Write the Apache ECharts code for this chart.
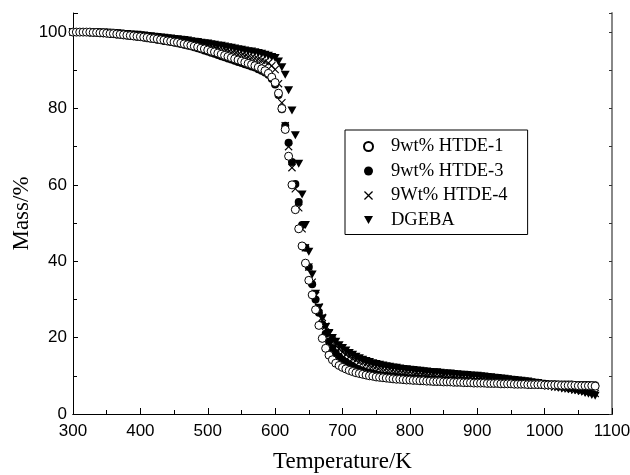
<!DOCTYPE html>
<html>
<head>
<meta charset="utf-8">
<script src="https://cdn.jsdelivr.net/npm/echarts@6/dist/echarts.min.js"></script>
<style>
    html, body { margin: 0; padding: 0; background: #fff; }
    #chart { width: 630px; height: 475px; }
</style>
</head>
<body>
<div id="chart"></div>
<script>
// temperature, K (one reading every 5 K)
var temps = [
    300, 305, 310, 315, 320, 325, 330, 335, 340, 345,
    350, 355, 360, 365, 370, 375, 380, 385, 390, 395,
    400, 405, 410, 415, 420, 425, 430, 435, 440, 445,
    450, 455, 460, 465, 470, 475, 480, 485, 490, 495,
    500, 505, 510, 515, 520, 525, 530, 535, 540, 545,
    550, 555, 560, 565, 570, 575, 580, 585, 590, 595,
    600, 605, 610, 615, 620, 625, 630, 635, 640, 645,
    650, 655, 660, 665, 670, 675, 680, 685, 690, 695,
    700, 705, 710, 715, 720, 725, 730, 735, 740, 745,
    750, 755, 760, 765, 770, 775, 780, 785, 790, 795,
    800, 805, 810, 815, 820, 825, 830, 835, 840, 845,
    850, 855, 860, 865, 870, 875, 880, 885, 890, 895,
    900, 905, 910, 915, 920, 925, 930, 935, 940, 945,
    950, 955, 960, 965, 970, 975, 980, 985, 990, 995,
    1000, 1005, 1010, 1015, 1020, 1025, 1030, 1035, 1040, 1045,
    1050, 1055, 1060, 1065, 1070, 1075
];

// mass, %
var htde1 = [
    100, 100, 100, 100, 100, 100, 99.9, 99.9, 99.8, 99.8,
    99.7, 99.6, 99.6, 99.5, 99.4, 99.3, 99.2, 99.1, 99.0, 98.9,
    98.8, 98.7, 98.6, 98.4, 98.3, 98.2, 98.0, 97.9, 97.7, 97.6,
    97.4, 97.3, 97.1, 96.9, 96.7, 96.5, 96.3, 96.1, 95.8, 95.6,
    95.3, 95.0, 94.8, 94.5, 94.2, 93.9, 93.6, 93.3, 93.0, 92.7,
    92.4, 92.1, 91.8, 91.5, 91.2, 90.8, 90.4, 89.9, 89.2, 88.2,
    86.8, 84.0, 80.0, 74.5, 67.5, 60.0, 53.5, 48.5, 44.0, 39.5,
    35.0, 31.2, 27.3, 23.2, 19.8, 17.2, 15.4, 14.2, 13.3, 12.7,
    12.2, 11.8, 11.4, 11.1, 10.8, 10.6, 10.4, 10.2, 10.0, 9.9,
    9.7, 9.6, 9.5, 9.4, 9.3, 9.2, 9.1, 9.1, 9.0, 8.9,
    8.9, 8.8, 8.8, 8.7, 8.7, 8.6, 8.6, 8.5, 8.5, 8.5,
    8.4, 8.4, 8.4, 8.3, 8.3, 8.3, 8.2, 8.2, 8.2, 8.1,
    8.1, 8.1, 8.1, 8.0, 8.0, 8.0, 8.0, 7.9, 7.9, 7.9,
    7.9, 7.8, 7.8, 7.8, 7.8, 7.7, 7.7, 7.7, 7.7, 7.7,
    7.6, 7.6, 7.6, 7.6, 7.6, 7.5, 7.5, 7.5, 7.5, 7.5,
    7.4, 7.4, 7.4, 7.4, 7.4, 7.3
];
var htde3 = [
    100, 100, 100, 100, 100, 99.9, 99.9, 99.8, 99.8, 99.7,
    99.7, 99.6, 99.5, 99.4, 99.3, 99.2, 99.1, 99.0, 98.9, 98.8,
    98.7, 98.6, 98.4, 98.3, 98.2, 98.0, 97.9, 97.7, 97.6, 97.4,
    97.3, 97.1, 96.9, 96.7, 96.5, 96.3, 96.0, 95.8, 95.5, 95.2,
    94.9, 94.6, 94.3, 94.0, 93.7, 93.4, 93.1, 92.8, 92.5, 92.2,
    91.9, 91.6, 91.3, 91.0, 90.7, 90.3, 89.9, 89.4, 88.8, 87.8,
    86.3, 83.5, 79.8, 75.5, 71.0, 66.0, 60.2, 55.5, 49.5, 43.5,
    38.5, 34.0, 30.0, 26.5, 23.5, 21.0, 19.0, 17.3, 16.0, 15.0,
    14.2, 13.6, 13.0, 12.5, 12.0, 11.6, 11.3, 11.0, 10.8, 10.6,
    10.4, 10.2, 10.1, 10.0, 9.9, 9.8, 9.7, 9.6, 9.5, 9.4,
    9.3, 9.3, 9.2, 9.2, 9.1, 9.1, 9.0, 9.0, 8.9, 8.9,
    8.8, 8.8, 8.7, 8.7, 8.6, 8.6, 8.6, 8.5, 8.5, 8.4,
    8.4, 8.4, 8.3, 8.3, 8.3, 8.2, 8.2, 8.2, 8.1, 8.1,
    8.1, 8.0, 8.0, 8.0, 8.0, 7.9, 7.9, 7.9, 7.9, 7.8,
    7.8, 7.8, 7.8, 7.8, 7.7, 7.7, 7.7, 7.7, 7.7, 7.6,
    7.6, 7.6, 7.6, 7.6, 7.5, 7.5
];
var htde4 = [
    100, 100, 100, 100, 100, 100, 99.9, 99.9, 99.8, 99.8,
    99.7, 99.7, 99.6, 99.5, 99.5, 99.4, 99.3, 99.2, 99.1, 99.0,
    98.9, 98.8, 98.7, 98.6, 98.5, 98.3, 98.2, 98.1, 98.0, 97.8,
    97.7, 97.5, 97.4, 97.2, 97.0, 96.9, 96.7, 96.5, 96.3, 96.1,
    95.9, 95.7, 95.5, 95.3, 95.1, 94.9, 94.7, 94.5, 94.3, 94.1,
    93.9, 93.7, 93.5, 93.3, 93.1, 92.9, 92.6, 92.3, 91.9, 91.2,
    90.2, 86.5, 81.5, 75.5, 70.0, 64.5, 59.0, 54.0, 48.5, 43.5,
    38.5, 34.5, 31.0, 28.0, 25.3, 23.0, 21.0, 19.3, 18.0, 17.0,
    16.2, 15.6, 15.0, 14.5, 14.1, 13.7, 13.4, 13.1, 12.8, 12.6,
    12.4, 12.2, 12.0, 11.9, 11.8, 11.6, 11.5, 11.4, 11.3, 11.2,
    11.1, 11.0, 10.9, 10.9, 10.8, 10.7, 10.6, 10.5, 10.5, 10.4,
    10.3, 10.2, 10.2, 10.1, 10.0, 9.9, 9.9, 9.8, 9.7, 9.6,
    9.6, 9.5, 9.4, 9.3, 9.2, 9.1, 9.0, 8.9, 8.8, 8.7,
    8.6, 8.5, 8.4, 8.3, 8.2, 8.1, 8.0, 7.9, 7.8, 7.7,
    7.6, 7.4, 7.3, 7.1, 7.0, 6.9, 6.7, 6.6, 6.5, 6.3,
    6.2, 6.0, 5.9, 5.7, 5.6, 5.4
];
var dgeba = [
    100, 100, 100, 100, 100, 100, 100, 100, 99.9, 99.9,
    99.8, 99.8, 99.7, 99.7, 99.6, 99.5, 99.5, 99.4, 99.3, 99.3,
    99.2, 99.1, 99.0, 98.9, 98.8, 98.7, 98.6, 98.5, 98.4, 98.3,
    98.2, 98.1, 98.0, 97.9, 97.8, 97.6, 97.5, 97.4, 97.2, 97.1,
    97.0, 96.8, 96.7, 96.5, 96.4, 96.2, 96.0, 95.9, 95.7, 95.5,
    95.4, 95.2, 95.0, 94.9, 94.7, 94.5, 94.3, 94.1, 93.8, 93.5,
    93.2, 92.3, 90.8, 88.8, 84.8, 79.5, 73.0, 65.5, 57.5, 49.5,
    42.5, 36.5, 31.5, 27.8, 25.0, 22.8, 21.2, 19.9, 18.9, 18.0,
    17.3, 16.6, 16.0, 15.5, 15.0, 14.6, 14.2, 13.9, 13.6, 13.3,
    13.1, 12.9, 12.7, 12.5, 12.4, 12.2, 12.1, 11.9, 11.8, 11.7,
    11.6, 11.5, 11.4, 11.3, 11.2, 11.1, 11.0, 10.9, 10.9, 10.8,
    10.7, 10.6, 10.6, 10.5, 10.4, 10.3, 10.3, 10.2, 10.1, 10.0,
    10.0, 9.9, 9.8, 9.7, 9.6, 9.5, 9.4, 9.3, 9.2, 9.1,
    9.0, 8.9, 8.8, 8.7, 8.6, 8.5, 8.3, 8.2, 8.1, 7.9,
    7.8, 7.6, 7.5, 7.3, 7.2, 7.0, 6.8, 6.6, 6.4, 6.2,
    6.0, 5.8, 5.5, 5.3, 5.0, 4.8
];

var seriesNames = ['9wt% HTDE-1', '9wt% HTDE-3', '9Wt% HTDE-4', 'DGEBA'];

var crossPath = 'path://M0,1L1,0L5,4L9,0L10,1L6,5L10,9L9,10L5,6L1,10L0,9L4,5Z';
var triPath = 'path://M0,0L10,0L5,9Z';

function pairs(values) {
    var out = [];
    for (var i = 0; i < temps.length; i++) {
        out.push([temps[i], values[i]]);
    }
    return out;
}

var chart = echarts.init(document.getElementById('chart'));

var sansFamily = 'Liberation Sans, Arial, sans-serif';
var serifFamily = 'Liberation Serif, Times New Roman, serif';
var nameFont = { fontFamily: serifFamily, fontSize: 23, color: '#000' };

var option = {
    backgroundColor: '#fff',
    animation: false,
    grid: { left: 73, right: 18, top: 13, bottom: 61, containLabel: false, outerBoundsMode: 'none' },
    legend: {
        data: seriesNames,
        orient: 'vertical',
        left: 345,
        top: 130,
        padding: [7, 20, 5, 18],
        itemGap: 5.5,
        itemWidth: 9,
        itemHeight: 9,
        borderColor: '#000',
        borderWidth: 1,
        textStyle: {
            fontFamily: serifFamily,
            fontSize: 18.5,
            color: '#000',
            padding: [0, 0, 0, 13]
        }
    },
    xAxis: [
        {
            type: 'value',
            position: 'bottom',
            min: 300,
            max: 1100,
            interval: 100,
            name: 'Temperature/K',
            nameLocation: 'middle',
            nameGap: 36,
            nameMoveOverlap: false,
            nameTextStyle: nameFont,
            axisLine: { lineStyle: { color: '#000', width: 1 } },
            axisTick: { inside: true, length: 6, lineStyle: { color: '#000' } },
            minorTick: { show: true, splitNumber: 2, length: 4, lineStyle: { color: '#000' } },
            axisLabel: {
                margin: 9,
                fontFamily: sansFamily,
                fontSize: 17,
                color: '#000',
                formatter: function (v) { return String(v); }
            },
            splitLine: { show: false }
        },
        {
            type: 'value',
            position: 'top',
            min: 300,
            max: 1100,
            axisLine: { lineStyle: { color: '#000', width: 1 } },
            axisTick: { show: false },
            axisLabel: { show: false },
            splitLine: { show: false }
        }
    ],
    yAxis: [
        {
            type: 'value',
            position: 'left',
            min: 0,
            max: 105,
            interval: 20,
            name: 'Mass/%',
            nameLocation: 'middle',
            nameGap: 40,
            nameMoveOverlap: false,
            nameTextStyle: nameFont,
            axisLine: { lineStyle: { color: '#000', width: 1 } },
            axisTick: { inside: true, length: 5, lineStyle: { color: '#000' } },
            minorTick: { show: true, splitNumber: 2, length: 4, lineStyle: { color: '#000' } },
            axisLabel: {
                margin: 6,
                fontFamily: sansFamily,
                fontSize: 17,
                color: '#000',
                formatter: function (v) { return v % 20 === 0 ? String(v) : ''; }
            },
            splitLine: { show: false }
        },
        {
            type: 'value',
            position: 'right',
            min: 0,
            max: 105,
            interval: 10,
            axisLine: { lineStyle: { color: '#888', width: 2 } },
            axisTick: { inside: true, length: 3, lineStyle: { color: '#333' } },
            axisLabel: { show: false },
            splitLine: { show: false }
        }
    ],
    series: [
        {
            name: seriesNames[3],
            type: 'scatter',
            z: 2,
            symbol: triPath,
            symbolSize: [9, 8],
            itemStyle: { color: '#000', opacity: 1 },
            data: pairs(dgeba)
        },
        {
            name: seriesNames[2],
            type: 'scatter',
            z: 3,
            symbol: crossPath,
            symbolSize: 8,
            itemStyle: { color: '#000', opacity: 1 },
            data: pairs(htde4)
        },
        {
            name: seriesNames[1],
            type: 'scatter',
            z: 4,
            symbol: 'circle',
            symbolSize: 8,
            itemStyle: { color: '#000', opacity: 1 },
            data: pairs(htde3)
        },
        {
            name: seriesNames[0],
            type: 'scatter',
            z: 5,
            symbol: 'circle',
            symbolSize: 8,
            itemStyle: { color: '#fff', borderColor: '#000', borderWidth: 1, opacity: 1 },
            data: pairs(htde1)
        }
    ]
};

chart.setOption(option);
</script>
</body>
</html>
